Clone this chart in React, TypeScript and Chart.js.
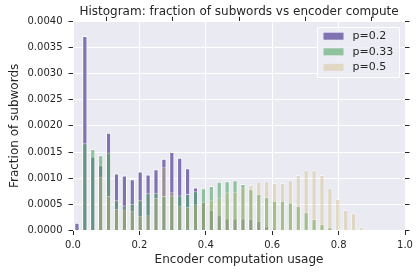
import React, { useEffect, useRef } from 'react';
import { Chart, registerables } from 'chart.js';

Chart.register(...registerables);

// Histogram bin centres (42 equal bins over [0, 1]; only the first 37 are populated)
const binCenters = [
  0.0119, 0.0357, 0.0595, 0.0833, 0.1071, 0.131, 0.1548, 0.1786, 0.2024, 0.2262,
  0.25, 0.2738, 0.2976, 0.3214, 0.3452, 0.369, 0.3929, 0.4167, 0.4405, 0.4643,
  0.4881, 0.5119, 0.5357, 0.5595, 0.5833, 0.6071, 0.631, 0.6548, 0.6786, 0.7024,
  0.7262, 0.75, 0.7738, 0.7976, 0.8214, 0.8452, 0.869,
];

const seriesLabels = ['p=0.2', 'p=0.33', 'p=0.5'];

const p02 = [
  0.00015, 0.00372, 0.00141, 0.00125, 0.00187, 0.00109, 0.00105, 0.00098, 0.00113, 0.00107,
  0.00117, 0.00137, 0.0015, 0.00139, 0.00119, 0.00082, 0.00055, 0.00039, 0.00029, 0.00023,
  0.00023, 0.00023, 0.00022, 0.00018, 0.00008, 0.00003, 0, 0, 0, 0,
  0, 0, 0, 0, 0, 0, 0,
];

const p033 = [
  0, 0.00167, 0.00156, 0.00144, 0.00149, 0.00058, 0.00048, 0.00051, 0.00058, 0.00071,
  0.00072, 0.00066, 0.00067, 0.00067, 0.0007, 0.00075, 0.00081, 0.00085, 0.00093, 0.00094,
  0.00096, 0.00089, 0.00079, 0.0007, 0.00064, 0.00057, 0.00057, 0.00053, 0.00047, 0.00035,
  0.00022, 0.00012, 0.00006, 0, 0, 0, 0,
];

const p05 = [
  0, 0, 0, 0.00103, 0.00066, 0.00041, 0.0004, 0.00038, 0.00028, 0.00029,
  0.00062, 0.00122, 0.00074, 0.00048, 0.00045, 0.0005, 0.00055, 0.00058, 0.00063, 0.00073,
  0.00074, 0.00082, 0.00087, 0.00093, 0.00094, 0.00091, 0.00091, 0.00096, 0.00106, 0.00115,
  0.00115, 0.00106, 0.00081, 0.0006, 0.00039, 0.00033, 0.00006,
];

const seriesColors = ['rgba(129,114,178,1)', 'rgba(85,168,104,0.62)', 'rgba(204,185,116,0.38)'];
const seriesEdges = ['rgba(255,255,255,1)', 'rgba(255,255,255,0.62)', 'rgba(255,255,255,0.38)'];

const TEXT = '#262626';
const FONT = '"DejaVu Sans", sans-serif';

const toPoints = (vals: number[]) =>
  vals.map((v, i) => ({ x: binCenters[i], y: v > 0 ? v : null }));

const plotBg = {
  id: 'plotBg',
  beforeDraw(chart: any) {
    const { ctx, chartArea: a } = chart;
    ctx.save();
    ctx.fillStyle = '#EAEAF2';
    ctx.fillRect(a.left, a.top, a.right - a.left, a.bottom - a.top);
    ctx.restore();
  },
};

const insideLegend = {
  id: 'insideLegend',
  afterDatasetsDraw(chart: any) {
    const { ctx, chartArea: a } = chart;
    const items = chart.data.datasets.map((ds: any) => ({ label: ds.label, color: ds.backgroundColor }));
    ctx.save();
    ctx.font = `11px ${FONT}`;
    const maxW = Math.max(...items.map((i: any) => ctx.measureText(i.label).width));
    const w = Math.round(35 + maxW + 6);
    const h = 50;
    const x = Math.round(a.right - 6 - w) + 0.5;
    const y = Math.round(a.top + 6) + 0.5;
    ctx.fillStyle = 'rgba(236,236,244,0.8)';
    ctx.strokeStyle = '#ffffff';
    ctx.lineWidth = 1;
    ctx.beginPath();
    ctx.rect(x, y, w, h);
    ctx.fill();
    ctx.stroke();
    items.forEach((it: any, i: number) => {
      const cy = y + 8.7 + i * 15.6;
      ctx.fillStyle = it.color;
      ctx.fillRect(x + 6, cy - 3.5, 20, 7);
      ctx.fillStyle = TEXT;
      ctx.textBaseline = 'middle';
      ctx.textAlign = 'left';
      ctx.fillText(it.label, x + 35, cy);
    });
    ctx.restore();
  },
};

export default function App() {
  const ref = useRef<HTMLCanvasElement>(null);

  useEffect(() => {
    Chart.defaults.font.family = FONT;
    Chart.defaults.color = TEXT;

    const gridCommon = {
      color: '#ffffff',
      lineWidth: 1,
      tickColor: TEXT,
      tickLength: 4.5,
      tickWidth: 1,
      drawTicks: true,
    };

    const chart = new Chart(ref.current as HTMLCanvasElement, {
      type: 'bar',
      data: {
        datasets: [p02, p033, p05].map((vals, i) => ({
          label: seriesLabels[i],
          data: toPoints(vals) as any,
          backgroundColor: seriesColors[i],
          borderColor: seriesEdges[i],
          borderWidth: 1,
          order: 3 - i,
          xAxisID: 'x',
          yAxisID: 'y',
        })),
      },
      options: {
        animation: false,
        responsive: false,
        devicePixelRatio: 1,
        layout: { padding: 0 },
        datasets: {
          bar: { grouped: false, barPercentage: 0.66, categoryPercentage: 1 },
        } as any,
        plugins: {
          legend: { display: false },
          tooltip: { enabled: false },
          title: {
            display: true,
            text: 'Histogram: fraction of subwords vs encoder compute',
            fullSize: false,
            color: TEXT,
            font: { size: 12, weight: 'normal' as any, family: FONT },
            padding: { top: 5, bottom: 1.9 },
          },
        },
        scales: {
          x: {
            type: 'linear',
            position: 'bottom',
            min: 0,
            max: 1,
            offset: false,
            grid: { ...gridCommon, offset: false } as any,
            border: { display: false },
            ticks: {
              stepSize: 0.2,
              padding: 4,
              color: TEXT,
              font: { size: 10, family: FONT },
              callback: (v: any) => Number(v).toFixed(1),
            },
            title: {
              display: true,
              text: 'Encoder computation usage',
              color: TEXT,
              font: { size: 12, family: FONT },
              padding: { top: 0, bottom: 7.8 },
            },
            afterFit: (s: any) => {
              s.height = 44.5;
            },
          },
          x2: {
            type: 'linear',
            position: 'top',
            min: 0,
            max: 1,
            offset: false,
            grid: { ...gridCommon, drawOnChartArea: false } as any,
            border: { display: false },
            ticks: { stepSize: 0.2, display: false },
            afterFit: (s: any) => {
              s.height = 0;
            },
          },
          y: {
            type: 'linear',
            position: 'left',
            min: 0,
            max: 0.004,
            grid: gridCommon as any,
            border: { display: false },
            ticks: {
              stepSize: 0.0005,
              padding: 6,
              color: TEXT,
              font: { size: 10, family: FONT },
              callback: (v: any) => Number(v).toFixed(4),
            },
            title: {
              display: true,
              text: 'Fraction of subwords',
              color: TEXT,
              font: { size: 12, family: FONT },
              padding: { top: 7.8, bottom: 0 },
            },
            afterFit: (s: any) => {
              s.width = 73;
            },
          },
          y2: {
            type: 'linear',
            position: 'right',
            min: 0,
            max: 0.004,
            grid: { ...gridCommon, drawOnChartArea: false } as any,
            border: { display: false },
            ticks: { stepSize: 0.0005, display: false },
            afterFit: (s: any) => {
              s.width = 15;
            },
          },
        },
      },
      plugins: [plotBg, insideLegend],
    });

    return () => chart.destroy();
  }, []);

  return (
    <div style={{ position: 'fixed', left: 0, top: 0, width: 420, height: 275, background: '#ffffff' }}>
      <canvas ref={ref} width={420} height={275} style={{ display: 'block', width: 420, height: 275 }} />
    </div>
  );
}
